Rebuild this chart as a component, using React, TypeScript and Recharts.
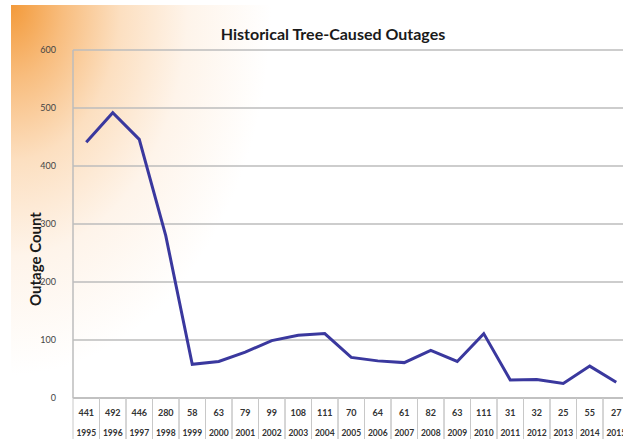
import { LineChart, Line, XAxis, YAxis, CartesianGrid, Label } from "recharts";

const years = [
  "1995", "1996", "1997", "1998", "1999", "2000", "2001", "2002", "2003", "2004", "2005",
  "2006", "2007", "2008", "2009", "2010", "2011", "2012", "2013", "2014", "2015",
];
const outages = [441, 492, 446, 280, 58, 63, 79, 99, 108, 111, 70, 64, 61, 82, 63, 111, 31, 32, 25, 55, 27];
const yTicks = [0, 100, 200, 300, 400, 500, 600];

const data = years.map((year, i) => ({ year, outages: outages[i] }));

const FONT = "Lato, 'Open Sans', sans-serif";
const CELL = 26.5; // table cell width (plot width / categories)

// data table under the x axis: value row + year row with cell borders
function TableTick(props: any) {
  const { x, y, index } = props;
  return (
    <g>
      <line x1={x - CELL / 2} x2={x - CELL / 2} y1={y} y2={y + 50} stroke="#c8c8c8" strokeWidth={1} />
      <line x1={x + CELL / 2} x2={x + CELL / 2} y1={y} y2={y + 50} stroke="#c8c8c8" strokeWidth={1} />
      <text x={x} y={y + 18} textAnchor="middle" fontSize={9} fontWeight={700} fill="#333" fontFamily={FONT}>
        {outages[index]}
      </text>
      <text x={x} y={y + 38} textAnchor="middle" fontSize={8.5} fontWeight={700} fill="#333" fontFamily={FONT}>
        {years[index]}
      </text>
    </g>
  );
}

export default function App() {
  return (
    <div
      style={{
        position: "fixed",
        left: 0,
        top: 0,
        width: 623,
        height: 439,
        overflow: "hidden",
        background: "#fff",
      }}
    >
      <div
        style={{
          position: "absolute",
          left: 11,
          top: 5,
          width: 640,
          height: 460,
          background:
            "radial-gradient(ellipse 260px 370px at 0 0, #f39a3a 0%, #f8bd7e 20%, #fcdfc0 42%, #fef4ea 68%, #ffffff 100%)",
        }}
      />
      <div
        style={{
          position: "absolute",
          left: 0,
          width: 666,
          textAlign: "center",
          top: 24,
          fontFamily: FONT,
          fontWeight: 700,
          fontSize: 16,
          color: "#1a1a1a",
        }}
      >
        Historical Tree-Caused Outages
      </div>
      <div style={{ position: "absolute", left: 0, top: 0 }}>
        <LineChart width={640} height={460} data={data} margin={{ top: 50, right: 10.5, bottom: 0, left: 0 }}>
          <CartesianGrid vertical={false} stroke="#bdbdbd" strokeWidth={1.5} />
          <XAxis
            dataKey="year"
            scale="band"
            height={62}
            tickSize={0}
            tickMargin={0}
            interval={0}
            axisLine={{ stroke: "#bdbdbd", strokeWidth: 1.5 }}
            tick={<TableTick />}
          />
          <YAxis
            width={73}
            domain={[0, 600]}
            ticks={yTicks}
            tickLine={false}
            tickMargin={11}
            axisLine={{ stroke: "#bdbdbd", strokeWidth: 1.5 }}
            tick={{ fontSize: 9, fill: "#444", fontFamily: FONT }}
          >
            <Label
              content={() => (
                <text
                  x={35}
                  y={259}
                  transform="rotate(-90 35 259)"
                  textAnchor="middle"
                  dominantBaseline="central"
                  fontSize={15}
                  fontWeight={700}
                  fill="#1a1a1a"
                  fontFamily={FONT}
                >
                  Outage Count
                </text>
              )}
            />
          </YAxis>
          <Line
            type="linear"
            dataKey="outages"
            stroke="#3a389e"
            strokeWidth={3}
            dot={false}
            isAnimationActive={false}
          />
        </LineChart>
      </div>
    </div>
  );
}
